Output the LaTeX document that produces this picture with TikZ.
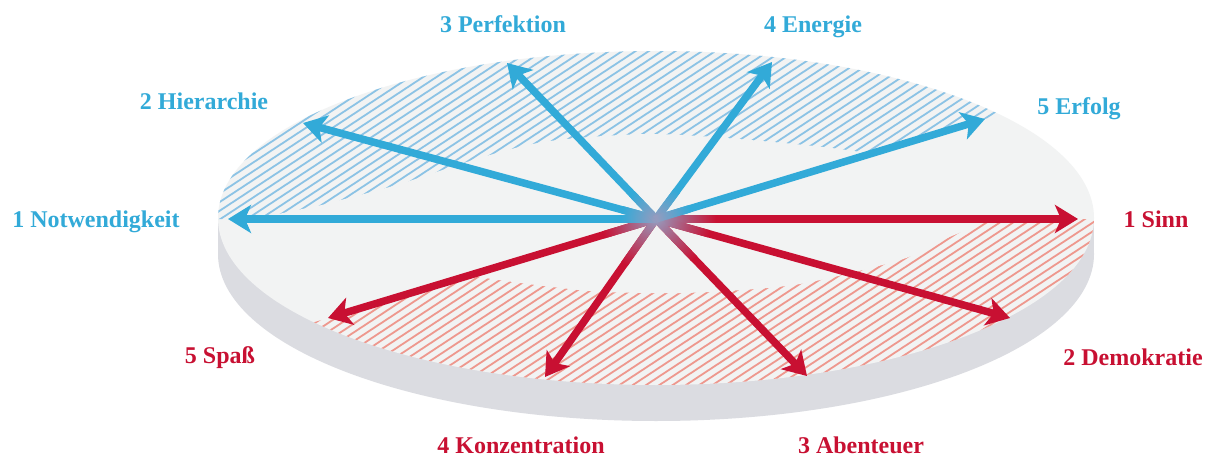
\documentclass[tikz,border=0pt]{standalone}
\usepackage{fontspec}
\setmainfont{Liberation Serif}
\usetikzlibrary{arrows.meta}
\definecolor{cblue}{RGB}{50,170,216}
\definecolor{cred}{RGB}{200,16,50}
\definecolor{hblue}{RGB}{140,195,229}
\definecolor{hred}{RGB}{238,152,142}
\definecolor{ctop}{RGB}{242,243,243}
\definecolor{cside}{RGB}{219,220,225}
\definecolor{cmix}{RGB}{150,155,190}
\begin{document}
\begin{tikzpicture}[x=1pt,y=-1pt,
  arr/.style={line width=7.5pt,-{Stealth[length=23pt,width=28pt,inset=6pt]}},
  lab/.style={font=\fontsize{24}{28}\selectfont\bfseries,anchor=base,inner sep=0pt},
  hatchline/.style={line width=1.8pt}]
\useasboundingbox (0,0) rectangle (1214,457);
\fill[white] (0,0) rectangle (1214,457);
% disc
\fill[cside] (656,254) ellipse [x radius=438, y radius=167];
\fill[cside] (218,218) rectangle (1094,254);
\fill[ctop] (656,218) ellipse [x radius=438, y radius=167];
% blue hatch
\begin{scope}
  \clip (656,218) ellipse [x radius=438, y radius=167];
  \clip (656,219) -- (0,219) -- (0,0) -- (1214,0) -- (1214,49.4) -- cycle;
  \foreach \i in {-42,...,86} \draw[hblue,hatchline] (\i*13.3,460) -- ++(700,-460);
  \fill[ctop] plot[smooth cycle] coordinates {(255,224) (330,203) (400,184) (483,157) (550,141) (650,134) (750,140) (860,152) (980,178) (1000,250) (656,310) (320,262)};
\end{scope}
% red hatch
\begin{scope}
  \clip (656,218) ellipse [x radius=438, y radius=167];
  \clip (656,219) -- (1214,219) -- (1214,457) -- (0,457) -- (0,417) -- cycle;
  \foreach \i in {-42,...,86} \draw[hred,hatchline] (\i*13.3,460) -- ++(700,-460);
  \fill[ctop] plot[smooth cycle] coordinates {(985,214) (943,240) (900,260) (800,284) (710,292) (650,293) (590,291) (513,282) (470,274) (420,250) (405,200) (656,125) (960,150)};
\end{scope}
% arrows
\coordinate (c) at (656,219);
\coordinate (b1) at (228,219);
\coordinate (b2) at (303,123);
\coordinate (b3) at (507,63);
\coordinate (b4) at (772,62);
\coordinate (b5) at (985,119);
\coordinate (r1) at (1078,219);
\coordinate (r2) at (1010,318);
\coordinate (r3) at (807,376);
\coordinate (r4) at (545,377);
\coordinate (r5) at (328,318);
\foreach \t in {b1,b2,b3,b4,b5} \draw[arr,cblue] (c) -- (\t);
\foreach \t in {r1,r2,r3,r4,r5} \draw[arr,cred] (c) -- (\t);
\foreach \t/\col/\len in {r1/cred/60,r2/cred/55,r3/cred/55,r4/cred/55,r5/cred/55,b1/cblue/35,b2/cblue/35,b3/cblue/35,b4/cblue/35,b5/cblue/35} {
  \pgfmathanglebetweenpoints{\pgfpointanchor{c}{center}}{\pgfpointanchor{\t}{center}}
  \let\myang\pgfmathresult
  \shade[transform canvas={shift={(c)},rotate=\myang},left color=cmix,right color=\col] (0,-3.75) rectangle (\len,3.75);
}
% labels
\node[lab,text=cblue] (l1) at (96,227) {1 Notwendigkeit};
\node[lab,text=cblue] (l2) at (204,110) {2 Hierarchie};
\node[lab,text=cblue] (l3) at (503,33) {3 Perfektion};
\node[lab,text=cblue] (l4) at (813,33) {4 Energie};
\node[lab,text=cblue] (l5) at (1079,115) {5 Erfolg};
\node[lab,text=cred] (m1) at (1156,227) {1 Sinn};
\node[lab,text=cred] (m2) at (1133,365) {2 Demokratie};
\node[lab,text=cred] (m3) at (861,453) {3 Abenteuer};
\node[lab,text=cred] (m4) at (521,453) {4 Konzentration};
\node[lab,text=cred] (m5) at (220,363) {5 Spaß};
\end{tikzpicture}
\end{document}
